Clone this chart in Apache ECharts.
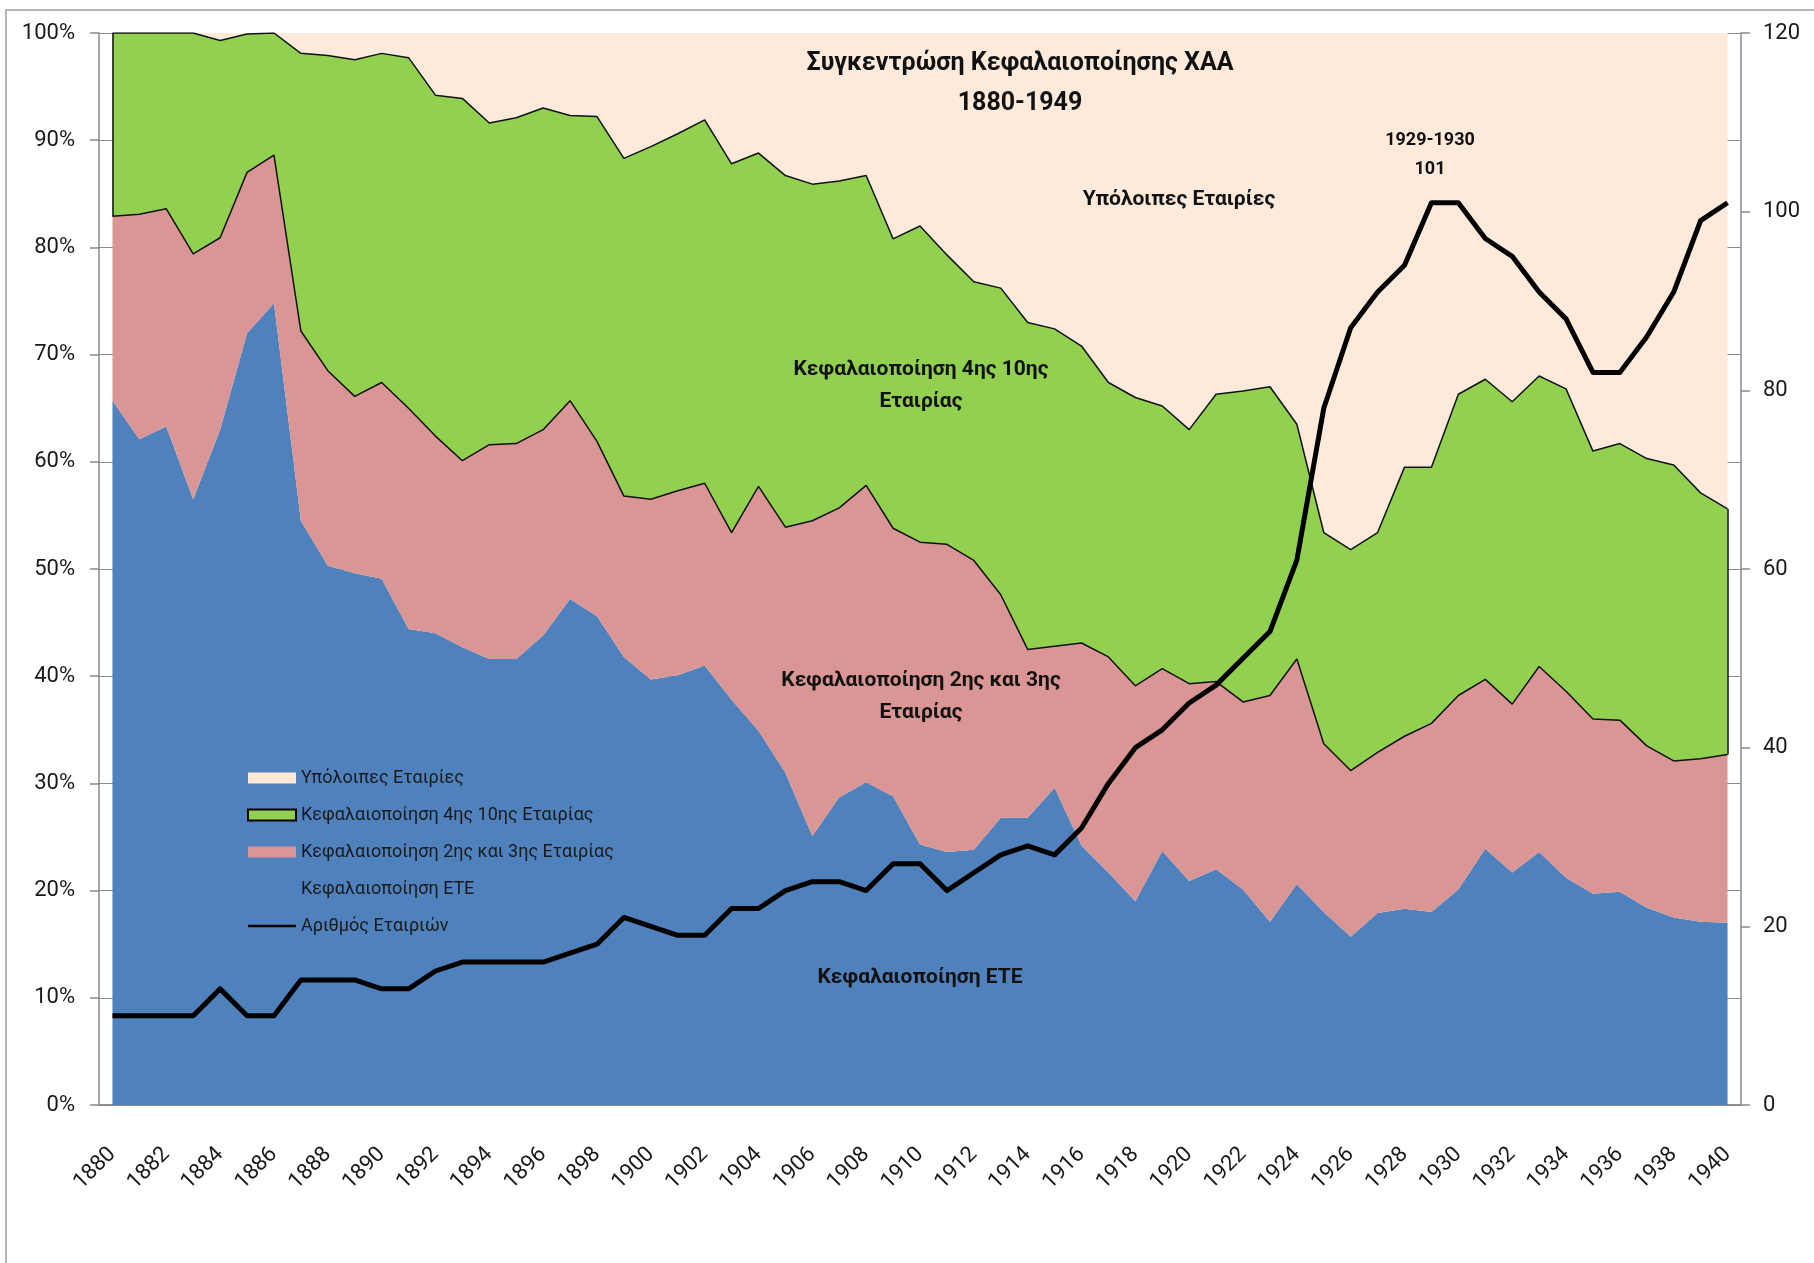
<!DOCTYPE html>
<html>
<head>
<meta charset="utf-8">
<script src="https://cdn.jsdelivr.net/npm/echarts@6/dist/echarts.min.js"></script>
<style>
	html, body { margin: 0; padding: 0; background: #fff; }
	#chart { width: 1814px; height: 1263px; }
</style>
</head>
<body>
<div id="chart"></div>
<script>
	// categories
	const years = ['1880','1881','1882','1883','1884','1885','1886','1887','1888','1889',
		'1890','1891','1892','1893','1894','1895','1896','1897','1898','1899',
		'1900','1901','1902','1903','1904','1905','1906','1907','1908','1909',
		'1910','1911','1912','1913','1914','1915','1916','1917','1918','1919',
		'1920','1921','1922','1923','1924','1925','1926','1927','1928','1929',
		'1930','1931','1932','1933','1934','1935','1936','1937','1938','1939',
		'1940'];

	// share of total capitalisation (%)
	const ete = [65.7, 62.1, 63.3, 56.5, 63.0, 72.0, 74.8, 54.5, 50.3, 49.6,
		49.1, 44.4, 44.0, 42.7, 41.6, 41.6, 43.8, 47.2, 45.6, 41.8,
		39.7, 40.1, 41.0, 37.8, 34.9, 31.0, 25.1, 28.7, 30.1, 28.8,
		24.3, 23.6, 23.8, 26.8, 26.8, 29.6, 24.2, 21.7, 19.0, 23.7,
		20.9, 22.0, 20.1, 17.1, 20.6, 18.0, 15.7, 17.9, 18.3, 18.0,
		20.1, 23.9, 21.7, 23.6, 21.2, 19.7, 19.9, 18.4, 17.5, 17.1,
		17.0];
	const second = [17.2, 21.0, 20.3, 22.9, 17.9, 15.0, 13.8, 17.7, 18.2, 16.5,
		18.3, 20.6, 18.4, 17.4, 20.0, 20.1, 19.2, 18.5, 16.3, 15.0,
		16.8, 17.2, 17.0, 15.6, 22.8, 22.9, 29.4, 27.0, 27.7, 25.0,
		28.2, 28.7, 27.0, 20.8, 15.7, 13.2, 18.9, 20.1, 20.1, 17.0,
		18.4, 17.5, 17.5, 21.1, 21.0, 15.7, 15.5, 15.0, 16.1, 17.6,
		18.1, 15.8, 15.7, 17.3, 17.4, 16.3, 16.0, 15.1, 14.6, 15.2,
		15.7];
	const fourth = [17.1, 16.9, 16.4, 20.6, 18.4, 12.9, 11.4, 25.9, 29.4, 31.4,
		30.7, 32.7, 31.8, 33.8, 30.0, 30.4, 30.0, 26.6, 30.3, 31.5,
		32.9, 33.3, 33.9, 34.4, 31.1, 32.8, 31.4, 30.5, 28.9, 27.0,
		29.5, 27.0, 26.0, 28.6, 30.5, 29.6, 27.7, 25.6, 26.9, 24.5,
		23.7, 26.8, 29.0, 28.8, 21.9, 19.7, 20.6, 20.5, 25.1, 23.9,
		28.1, 28.0, 28.2, 27.1, 28.2, 25.0, 25.8, 26.8, 27.6, 24.8,
		22.9];
	const rest = [0, 0, 0, 0, 0.7, 0.1, 0, 1.9, 2.1, 2.5,
		1.9, 2.3, 5.8, 6.1, 8.4, 7.9, 7.0, 7.7, 7.8, 11.7,
		10.6, 9.4, 8.1, 12.2, 11.2, 13.3, 14.1, 13.8, 13.3, 19.2,
		18.0, 20.7, 23.2, 23.8, 27.0, 27.6, 29.2, 32.6, 34.0, 34.8,
		37.0, 33.7, 33.4, 33.0, 36.5, 46.6, 48.2, 46.6, 40.5, 40.5,
		33.7, 32.3, 34.4, 32.0, 33.2, 39.0, 38.3, 39.7, 40.3, 42.9,
		44.4];

	// number of listed companies (right axis)
	const companies = [10, 10, 10, 10, 13, 10, 10, 14, 14, 14,
		13, 13, 15, 16, 16, 16, 16, 17, 18, 21,
		20, 19, 19, 22, 22, 24, 25, 25, 24, 27,
		27, 24, 26, 28, 29, 28, 31, 36, 40, 42,
		45, 47, 50, 53, 61, 78, 87, 91, 94, 101,
		101, 97, 95, 91, 88, 82, 82, 86, 91, 99,
		101];

	const names = ['Κεφαλαιοποίηση ΕΤΕ', 'Κεφαλαιοποίηση 2ης και 3ης Εταιρίας',
		'Κεφαλαιοποίηση 4ης 10ης Εταιρίας', 'Υπόλοιπες Εταιρίες', 'Αριθμός Εταιριών'];

	const FONT = 'Roboto, "Noto Sans", sans-serif';
	const AXIS = '#8a8a8a';
	const last = years.length - 1;

	// green band edges at both ends
	const greenEdges = [
		[{coord: [0, ete[0] + second[0]]}, {coord: [0, ete[0] + second[0] + fourth[0]]}],
		[{coord: [last, ete[last] + second[last]]}, {coord: [last, ete[last] + second[last] + fourth[last]]}]
	];

	function label(text, x, y, size) {
		return {
			type: 'text', z: 50, silent: true,
			style: {
				text: text, x: x, y: y, align: 'center', verticalAlign: 'middle',
				font: 'bold ' + size + 'px ' + FONT, fill: '#111', lineHeight: size + 11
			}
		};
	}

	let chart = echarts.init(document.getElementById('chart'));
	chart.setOption({
		animation: false,
		backgroundColor: '#fff',
		textStyle: {fontFamily: FONT},
		title: {
			text: 'Συγκεντρώση Κεφαλαιοποίησης ΧΑΑ\n1880-1949',
			left: 1015,
			top: 39,
			textAlign: 'center',
			textStyle: {fontSize: 25, fontWeight: 'bold', color: '#111', lineHeight: 40, fontFamily: FONT}
		},
		legend: {
			orient: 'vertical',
			left: 242,
			top: 764,
			itemWidth: 48,
			itemHeight: 11,
			itemGap: 19,
			textStyle: {fontSize: 18, color: '#1a1a1a', fontFamily: FONT, lineHeight: 18},
			data: [
				{name: names[3], icon: 'rect'},
				{name: names[2], icon: 'rect', itemStyle: {borderColor: '#000', borderWidth: 2}},
				{name: names[1], icon: 'rect'},
				{name: names[0], icon: 'rect'},
				{name: names[4], icon: 'path://M0,0H48V2.5H0Z', itemStyle: {color: '#000'}}
			]
		},
		grid: {left: 99, right: 73, top: 33, bottom: 158},
		xAxis: [{
			type: 'category',
			data: years,
			boundaryGap: true,
			axisLine: {lineStyle: {color: AXIS, width: 1.5}},
			axisTick: {interval: 1, length: 11, lineStyle: {color: AXIS, width: 1.5}},
			axisLabel: {interval: 1, rotate: 45, margin: 46, fontSize: 22, color: '#1a1a1a', fontFamily: FONT},
			splitLine: {show: false}
		}, {
			type: 'category',
			position: 'top',
			offset: 1,
			data: years,
			axisLine: {lineStyle: {color: AXIS, width: 1.5}},
			axisTick: {show: false},
			axisLabel: {show: false}
		}],
		yAxis: [{
			type: 'value',
			min: 0,
			max: 100,
			interval: 10,
			axisLine: {show: true, lineStyle: {color: AXIS, width: 1.5}},
			axisTick: {show: true, length: 9, lineStyle: {color: AXIS, width: 1.5}},
			axisLabel: {formatter: '{value}%', fontSize: 22, margin: 24, color: '#1a1a1a', fontFamily: FONT},
			splitLine: {show: true, lineStyle: {color: AXIS, width: 1}}
		}, {
			type: 'value',
			min: 0,
			max: 120,
			interval: 20,
			position: 'right',
			axisLine: {show: true, lineStyle: {color: AXIS, width: 1.5}},
			axisTick: {show: true, length: 9, lineStyle: {color: AXIS, width: 1.5}},
			axisLabel: {fontSize: 22, margin: 22, color: '#1a1a1a', fontFamily: FONT},
			splitLine: {show: false}
		}],
		series: [{
			name: names[0], type: 'line', stack: 'cap', data: ete, z: 2,
			symbol: 'none', lineStyle: {width: 0}, itemStyle: {color: '#4F81BD'},
			areaStyle: {color: '#4F81BD', opacity: 1}
		}, {
			name: names[1], type: 'line', stack: 'cap', data: second, z: 4,
			symbol: 'none', lineStyle: {width: 1.5, color: '#111'}, itemStyle: {color: '#D99694'},
			areaStyle: {color: '#D99694', opacity: 1}
		}, {
			name: names[2], type: 'line', stack: 'cap', data: fourth, z: 3,
			symbol: 'none', lineStyle: {width: 1.5, color: '#111'}, itemStyle: {color: '#92D050'},
			areaStyle: {color: '#92D050', opacity: 1},
			markLine: {
				silent: true, symbol: 'none', label: {show: false},
				lineStyle: {color: '#111', width: 1.5, type: 'solid'},
				data: greenEdges
			}
		}, {
			name: names[3], type: 'line', stack: 'cap', data: rest, z: 2,
			symbol: 'none', lineStyle: {width: 0}, itemStyle: {color: '#FDEADA'},
			areaStyle: {color: '#FDEADA', opacity: 1}
		}, {
			name: names[4], type: 'line', yAxisIndex: 1, data: companies, z: 6,
			symbol: 'none', itemStyle: {color: '#000'},
			lineStyle: {color: '#000', width: 5, join: 'round'}
		}],
		graphic: [
			{
				type: 'rect', silent: true, z: 0,
				shape: {x: 6, y: 10, width: 1830, height: 1280},
				style: {fill: 'none', stroke: '#a0a0a0', lineWidth: 1.5}
			},
			label('Υπόλοιπες Εταιρίες', 1179, 200, 21),
			label('Κεφαλαιοποίηση 4ης 10ης\nΕταιρίας', 921, 386, 21),
			label('Κεφαλαιοποίηση 2ης και 3ης\nΕταιρίας', 921, 697, 21),
			label('Κεφαλαιοποίηση ΕΤΕ', 920, 978, 21),
			label('1929-1930\n101', 1430, 155, 18)
		]
	});
</script>
</body>
</html>
